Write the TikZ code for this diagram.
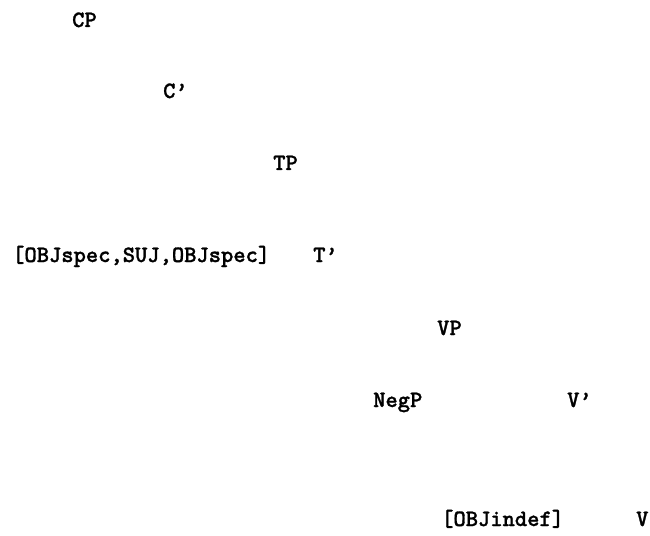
\documentclass[tikz,border=0pt]{standalone}
\usepackage{fontspec}
\newfontfamily\treefont{lmmonolt10-bold.otf}[FakeBold=1.2]
\begin{document}
\begin{tikzpicture}[x=1bp,y=-1bp,
  lbl/.style={inner sep=0pt,anchor=base west,font=\fontsize{23.4bp}{28bp}\treefont}]
\useasboundingbox (0,0) rectangle (650,536);
% tree labels, one row per level
\node[lbl] (cp) at (72,27) {CP};
\node[lbl] (cbar) at (163,98) {C’};
\node[lbl] (tp) at (273,170) {TP};
\node[lbl] (objspec) at (12,262) {[OBJspec,SUJ,OBJspec]};
\node[lbl] (tbar) at (313,262) {T’};
\node[lbl] (vp) at (437,335) {VP};
\node[lbl] (negp) at (373,407) {NegP};
\node[lbl] (vbar) at (567,407) {V’};
\node[lbl] (objindef) at (441,526) {[OBJindef]};
\node[lbl] (v) at (636,526) {V};
\end{tikzpicture}
\end{document}
